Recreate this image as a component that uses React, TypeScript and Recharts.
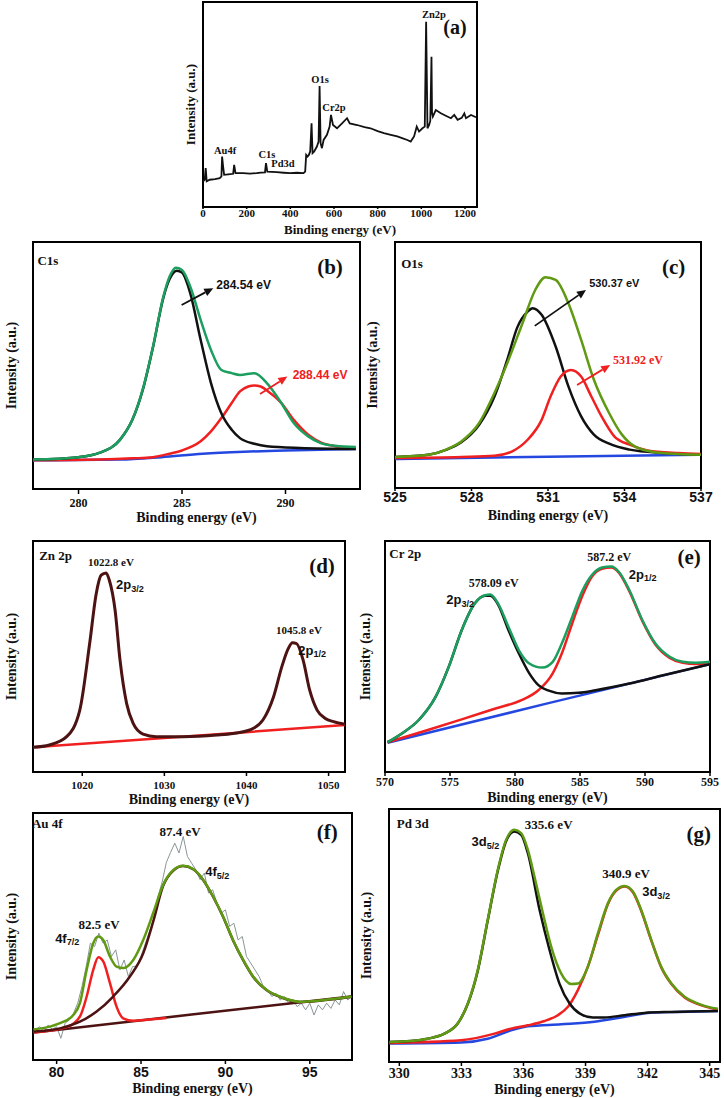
import React from 'react';
import { Label, Line, LineChart, ReferenceArea, ReferenceDot, ReferenceLine, XAxis, YAxis } from 'recharts';

type Pt = [number, number];

const SERIF = '"Liberation Serif", "Times New Roman", serif';
const SANS = '"Liberation Sans", Arial, sans-serif';

const GREEN = '#1b9e5e';
const OLIVE = '#5f9a12';
const BLUE = '#2447e0';
const RED = '#f02020';
const BLACK = '#111111';
const BROWN = '#4d1212';
const GRAY = '#8a9696';

// (a) survey spectrum
const surveyTicks = [0, 200, 400, 600, 800, 1000, 1200];
const surveySpectrum: Pt[] = [
    [0, 12.5], [7.7, 13.3], [12.3, 19.0], [16.9, 12.5], [30.7, 13.3], [55, 13.6], [76.7, 14.1], [84.4, 14.9],
    [87.5, 24.6], [92.1, 19.8], [96.7, 15.7], [115, 15.9], [138.1, 16.2], [142.7, 20.6], [148.8, 16.5],
    [184.1, 16.5], [215, 16.3], [245.5, 16.5], [265, 16.8], [283.9, 16.9], [288.5, 21.4], [294.6, 17.3],
    [337.6, 17.0], [370, 16.7], [399, 16.5], [430, 16.7], [460.3, 16.5], [468, 17.3], [472.6, 25.4],
    [478.7, 24.6], [484.9, 25.4], [491, 27.1], [497.2, 40.8], [501.8, 26.3], [509.4, 27.1], [521.7, 29.5],
    [529.4, 31.9], [534, 59.0], [538.6, 31.1], [544.7, 28.7], [552.4, 32.7], [567.7, 35.2], [580, 39.2],
    [586.2, 44.9], [595.4, 40.0], [613.8, 38.4], [636.8, 40.8], [659.8, 43.3], [672.1, 40.8], [705.8, 40.0],
    [740, 39.0], [767.2, 38.4], [800, 37.0], [828.6, 36.0], [860, 35.2], [890, 34.4], [915, 33.5],
    [936, 32.7], [951.4, 31.9], [966.7, 34.4], [979, 39.2], [989.7, 36.8], [1005.1, 38.4], [1015.8, 39.2],
    [1022, 90.3], [1028.1, 38.4], [1035.8, 40.0], [1041, 42.0], [1043.5, 55.4], [1046.5, 73.3], [1049, 46.0],
    [1052.7, 44.1], [1066.4, 47.3], [1089.5, 45.7], [1112, 44.5], [1135.5, 43.3], [1150.8, 44.9],
    [1166.2, 42.5], [1185, 43.5], [1196.9, 45.7], [1204.5, 43.3], [1227.5, 44.9], [1250.6, 43.8],
];

// (b) C1s
const c1sTicks = [280, 285, 290];
const c1sEnvelope: Pt[] = [
    [277.8, 11.9], [280, 12.9], [281, 14.6], [282, 19.9], [282.6, 28.0], [283.1, 40.2], [283.6, 57.7],
    [284.1, 77.9], [284.4, 86.0], [284.7, 89.6], [285, 88.7], [285.4, 81.9], [285.9, 68.5], [286.4, 56.3],
    [286.9, 48.2], [287.4, 46.9], [287.8, 46.2], [288.5, 46.9], [289.1, 42.9], [289.8, 34.8], [290.4, 26.7],
    [291.1, 21.3], [291.7, 18.6], [292.4, 17.5], [293.4, 17.0],
];
const c1sCC: Pt[] = [
    [277.8, 11.9], [280, 12.9], [281, 14.6], [282, 19.9], [282.6, 28.0], [283.1, 40.0], [283.6, 57.5],
    [284.1, 77.5], [284.4, 85.0], [284.75, 88.4], [285, 87.6], [285.4, 79.2], [285.9, 60.4], [286.4, 42.9],
    [286.9, 30.7], [287.4, 24.0], [287.8, 20.6], [288.5, 18.3], [289.1, 17.3], [290.7, 16.6], [293.4, 16.2],
];
const c1sOCO: Pt[] = [
    [277.8, 11.6], [281, 11.9], [282.6, 12.4], [283.6, 12.9], [284.4, 14.3], [285, 15.6], [285.9, 19.3],
    [286.4, 23.3], [286.9, 28.7], [287.4, 34.8], [287.8, 39.5], [288.2, 41.5], [288.5, 41.9], [288.8, 41.5],
    [289.1, 39.9], [289.8, 34.8], [290.4, 28.0], [291.1, 22.0], [291.7, 18.9], [292.4, 17.3], [293.4, 16.3],
];
const c1sBackground: Pt[] = [
    [277.8, 11.6], [282, 11.9], [284, 12.9], [286, 14.3], [288, 15.1], [290, 15.6], [293.4, 16.2],
];

// (c) O1s
const o1sTicks = [525, 528, 531, 534, 537];
const o1sEnvelope: Pt[] = [
    [525, 12.6], [526.3, 13.5], [527, 15.6], [527.6, 18.9], [528.3, 26.4], [528.9, 38.6], [529.4, 50.7],
    [530, 67.0], [530.5, 80.5], [530.9, 85.7], [531.3, 84.6], [531.8, 75.1], [532.3, 60.2], [532.8, 44.0],
    [533.4, 30.4], [533.9, 21.7], [534.4, 16.9], [535.2, 14.5], [536.1, 13.8], [537, 13.5],
];
const o1sLattice: Pt[] = [
    [525, 12.6], [526.3, 13.5], [527, 15.5], [527.6, 18.6], [528.3, 25.7], [528.9, 37.2], [529.4, 52.1],
    [529.8, 65.4], [530.2, 71.7], [530.4, 73.1], [530.75, 70.4], [531.3, 57.5], [531.8, 41.3], [532.3, 29.1],
    [532.8, 21.7], [533.4, 18.0], [534.2, 15.6], [535.5, 14.2], [537, 13.5],
];
const o1sSurface: Pt[] = [
    [525, 12.2], [527.6, 12.6], [528.9, 13.1], [529.6, 14.9], [530.2, 19.6], [530.75, 27.7], [531.1, 37.2],
    [531.5, 45.3], [531.9, 48.0], [532.3, 45.3], [532.7, 37.2], [533.1, 29.1], [533.6, 21.0], [534.2, 17.6],
    [534.9, 15.3], [536.1, 14.2], [537, 13.8],
];
const o1sBackground: Pt[] = [[525, 11.8], [531, 12.7], [537, 13.5]];

// (d) Zn 2p
const zn2pTicks = [1020, 1030, 1040, 1050];
const zn2pSpectrum: Pt[] = [
    [1014, 10.7], [1016, 11.7], [1018.1, 15.3], [1019.7, 26.8], [1020.9, 55.6], [1021.7, 77.2],
    [1022.3, 85.2], [1022.9, 86.2], [1023.3, 83.0], [1024, 70.0], [1024.6, 48.4], [1025.4, 29.7],
    [1026.2, 21.0], [1027.4, 16.4], [1029, 15.3], [1032.3, 15.3], [1036.4, 16.0], [1038.4, 16.7],
    [1040.4, 18.2], [1042, 22.5], [1043.3, 32.6], [1044.3, 45.5], [1045.1, 53.5], [1045.6, 55.9],
    [1046.1, 55.6], [1046.9, 48.4], [1047.7, 35.4], [1048.6, 26.8], [1049.6, 23.2], [1050.6, 21.8],
    [1052, 20.7],
];
const zn2pBackground: Pt[] = [[1014, 10.7], [1033, 15.5], [1052, 20.3]];

// (e) Cr 2p
const cr2pTicks = [570, 575, 580, 585, 590, 595];
const cr2pEnvelope: Pt[] = [
    [570.2, 12.9], [571.3, 16.7], [572.6, 22.5], [573.9, 32.6], [574.9, 45.5], [575.9, 61.4], [576.9, 72.9],
    [577.7, 76.5], [578.1, 76.8], [578.7, 72.9], [579.5, 62.8], [580.3, 52.7], [581.1, 47.0], [582.1, 45.2],
    [582.9, 47.7], [583.6, 55.6], [584.4, 67.1], [585.2, 78.7], [585.9, 85.2], [586.7, 88.5], [587.4, 89.0],
    [588, 86.6], [588.8, 78.7], [589.8, 65.7], [590.8, 55.6], [591.9, 49.9], [592.9, 47.7], [593.9, 47.3],
    [595, 47.7],
];
const cr2p32: Pt[] = [
    [570.2, 12.9], [571.3, 16.7], [572.6, 22.5], [573.9, 32.6], [574.9, 45.5], [575.9, 61.4], [576.9, 72.9],
    [577.7, 76.3], [578.1, 76.3], [578.7, 72.5], [579.5, 61.4], [580.3, 51.3], [581.1, 42.7], [581.8, 37.6],
    [582.6, 35.2], [583.6, 34.0], [584.9, 34.3], [586.2, 35.4], [588.8, 38.3], [591.4, 41.9], [595, 46.7],
];
const cr2p12: Pt[] = [
    [570.2, 12.9], [573.3, 18.2], [575.9, 22.8], [578.5, 27.5], [580.5, 31.1], [581.8, 35.4], [582.9, 42.7],
    [583.6, 51.3], [584.4, 64.3], [585.2, 76.5], [585.9, 84.4], [586.7, 88.0], [587.4, 88.5], [588, 86.2],
    [588.8, 78.2], [589.8, 65.3], [590.8, 55.2], [591.9, 49.4], [592.9, 47.3], [593.9, 46.8], [595, 47.0],
];
const cr2pBackground: Pt[] = [[570.2, 12.7], [582.5, 29.7], [595, 46.7]];

// (f) Au 4f
const au4fTicks = [80, 85, 90, 95];
const au4fRaw: Pt[] = [
    [78.75, 12.2], [79, 13.5], [79.25, 11.5], [79.5, 14.2], [79.75, 12.4], [80, 13.5], [80.25, 8.8],
    [80.5, 14.9], [80.75, 16.2], [81, 18.9], [81.25, 23.0], [81.5, 29.7], [81.75, 37.8], [82, 47.3],
    [82.25, 45.9], [82.5, 51.4], [82.75, 47.3], [83, 48.6], [83.25, 41.9], [83.5, 44.6], [83.75, 36.5],
    [84, 40.5], [84.25, 33.8], [84.5, 37.8], [84.75, 38.0], [85, 42.0], [85.25, 47.0], [85.5, 52.0],
    [85.75, 57.0], [86, 66.0], [86.25, 72.0], [86.5, 80.0], [86.75, 84.0], [87, 87.8], [87.25, 83.8],
    [87.5, 90.5], [87.75, 82.4], [88, 79.7], [88.25, 77.0], [88.5, 73.0], [88.75, 75.7], [89, 67.6],
    [89.25, 68.9], [89.5, 63.5], [89.75, 59.5], [90, 60.8], [90.25, 54.1], [90.5, 55.4], [90.75, 48.6],
    [91, 50.0], [91.25, 41.9], [91.5, 39.2], [91.75, 36.5], [92, 33.8], [92.25, 29.7], [92.5, 28.4],
    [92.75, 25.7], [93, 27.0], [93.25, 24.3], [93.5, 25.7], [93.75, 23.0], [94, 24.3], [94.25, 21.6],
    [94.5, 23.0], [94.75, 20.3], [95, 23.0], [95.25, 18.2], [95.5, 22.3], [95.75, 20.3], [96, 23.0],
    [96.25, 20.9], [96.5, 24.3], [96.75, 22.3], [97, 27.7], [97.25, 24.3], [97.5, 25.7],
];
const au4fEnvelope: Pt[] = [
    [78.62, 12.4], [79.41, 13.2], [80.2, 14.9], [80.99, 18.2], [81.38, 23.0], [81.78, 36.5], [82.17, 47.3],
    [82.47, 50.0], [82.76, 48.6], [83.16, 41.9], [83.55, 37.8], [83.94, 37.2], [84.54, 40.5], [85.13, 48.6],
    [85.72, 59.5], [86.31, 70.9], [86.9, 76.8], [87.5, 78.6], [88.09, 77.3], [88.68, 73.0], [89.27, 66.2],
    [89.86, 58.1], [90.45, 48.6], [91.05, 40.5], [91.64, 33.8], [92.43, 28.4], [93.21, 25.7], [94.4, 23.6],
    [95.58, 24.1], [97.46, 25.7],
];
const au4f52: Pt[] = [
    [78.62, 11.5], [80.2, 12.8], [81.38, 15.5], [82.37, 19.6], [83.35, 25.7], [84.34, 33.8], [85.13, 43.2],
    [85.72, 56.0], [86.31, 70.5], [86.9, 76.6], [87.5, 78.5], [88.09, 77.2], [88.68, 72.9], [89.27, 66.1],
    [89.86, 58.0], [90.45, 48.5], [91.05, 40.4], [91.64, 33.7], [92.43, 28.3], [93.21, 25.6], [94.4, 23.5],
    [95.58, 24.0], [97.46, 25.6],
];
const au4f72: Pt[] = [
    [78.62, 11.1], [80.6, 13.3], [81.38, 17.6], [81.78, 25.7], [82.17, 36.5], [82.47, 41.6], [82.76, 39.9],
    [83.16, 31.1], [83.55, 21.6], [83.94, 16.9], [84.54, 15.9], [85.5, 16.4], [86.5, 17.0],
];
const au4fBackground: Pt[] = [[78.62, 11.1], [88, 18.4], [97.46, 25.7]];

// (g) Pd 3d
const pd3dTicks = [330, 333, 336, 339, 342, 345];
const pd3dEnvelope: Pt[] = [
    [329.52, 7.9], [330.56, 8.3], [331.37, 9.2], [332.18, 11.2], [332.82, 15.2], [333.31, 23.1], [333.79, 36.3],
    [334.27, 56.1], [334.76, 76.0], [335.16, 87.8], [335.56, 91.8], [335.89, 90.5], [336.21, 83.9],
    [336.53, 73.3], [336.94, 58.8], [337.34, 45.6], [337.82, 35.0], [338.31, 30.8], [338.63, 31.0],
    [339.11, 37.6], [339.6, 50.9], [340.08, 62.7], [340.48, 68.0], [340.89, 69.6], [341.29, 67.4],
    [341.69, 60.1], [342.18, 48.2], [342.66, 37.6], [343.15, 31.0], [343.79, 25.8], [344.44, 23.1],
    [345.08, 21.5], [345.4, 21.1],
];
const pd3d52: Pt[] = [
    [329.52, 7.9], [330.56, 8.3], [331.37, 9.2], [332.18, 11.2], [332.82, 15.2], [333.31, 23.0], [333.79, 36.0],
    [334.27, 55.8], [334.76, 75.6], [335.16, 87.3], [335.56, 91.1], [335.89, 89.8], [336.21, 82.6],
    [336.78, 60.1], [337.26, 44.3], [337.74, 31.0], [338.23, 23.1], [338.71, 19.2], [339.35, 17.6],
    [339.9, 17.6], [340.89, 18.5], [341.85, 19.4], [343.15, 19.8], [345.4, 20.2],
];
const pd3d32: Pt[] = [
    [329.52, 7.5], [332.98, 8.6], [334.6, 11.2], [335.4, 13.2], [336.21, 14.5], [337.02, 16.2], [337.66, 18.5],
    [338.15, 21.8], [338.63, 28.4], [339.11, 37.6], [339.6, 50.2], [340.08, 62.4], [340.48, 67.7],
    [340.89, 69.4], [341.29, 67.1], [341.69, 59.8], [342.18, 48.0], [342.66, 37.4], [343.15, 30.8],
    [343.79, 25.5], [344.44, 22.9], [345.08, 21.3], [345.4, 20.7],
];
const pd3dBackground: Pt[] = [
    [329.52, 7.3], [332.98, 7.7], [334.27, 9.2], [335.4, 12.5], [336.21, 14.1], [337.82, 14.9], [339.43, 15.9],
    [340.72, 17.6], [342.02, 19.4], [343.47, 19.8], [345.4, 20.2],
];

type Curve = { pts: Pt[]; color: string; width?: number; linear?: boolean };
type Note = { x: number; y: number; text: string; sub?: string; size?: number; font?: string; color?: string };
type Arrow = { from: Pt; to: Pt; color: string };
type Frame = { x: number; y: number; w: number; h: number };

const rows = (pts: Pt[]) => pts.map(([x, y]) => ({ x, y }));

function NoteText({ cx, cy, note }: { cx?: number; cy?: number; note: Note }) {
    if (cx == null || cy == null) return null;
    const size = note.size ?? 12;
    return (
        <text
            x={cx}
            y={cy}
            textAnchor="middle"
            dominantBaseline="central"
            fontFamily={note.font ?? SERIF}
            fontWeight={700}
            fontSize={size}
            fill={note.color ?? BLACK}
        >
            {note.text}
            {note.sub && (
                <tspan fontSize={size * 0.7} dy={size * 0.32}>
                    {note.sub}
                </tspan>
            )}
        </text>
    );
}

function ArrowShape({ x1, y1, x2, y2, color }: any) {
    const a = Math.atan2(y2 - y1, x2 - x1);
    const len = 9;
    const half = 4;
    const bx = x2 - len * Math.cos(a);
    const by = y2 - len * Math.sin(a);
    const px = -Math.sin(a) * half;
    const py = Math.cos(a) * half;
    return (
        <g>
            <line x1={x1} y1={y1} x2={bx} y2={by} stroke={color} strokeWidth={1.8} />
            <polygon points={`${x2},${y2} ${bx + px},${by + py} ${bx - px},${by - py}`} fill={color} />
        </g>
    );
}

type PanelProps = {
    frame: Frame;
    domain: [number, number];
    ticks: number[];
    tickFont: string;
    tickFs: number;
    tickSize: number;
    tickGap: number;
    labelGap: number;
    labelFs: number;
    yLabelX: number;
    curves: Curve[];
    notes: Note[];
    arrows?: Arrow[];
};

function Panel({
    frame,
    domain,
    ticks,
    tickFont,
    tickFs,
    tickSize,
    tickGap,
    labelGap,
    labelFs,
    yLabelX,
    curves,
    notes,
    arrows = [],
}: PanelProps) {
    const top = 12;
    const right = 24;
    const axisH = 46;
    const yw = frame.x - yLabelX + 12;
    const width = yw + frame.w + right;
    const height = top + frame.h + axisH;
    const tickMargin = Math.max(0, tickGap - tickSize - tickFs * 0.35);
    return (
        <div style={{ position: 'absolute', left: frame.x - yw, top: frame.y - top }}>
            <LineChart width={width} height={height} margin={{ top, right, left: 0, bottom: 0 }}>
                <XAxis
                    type="number"
                    dataKey="x"
                    domain={domain}
                    ticks={ticks}
                    interval={0}
                    allowDataOverflow
                    axisLine={false}
                    height={axisH}
                    tickSize={tickSize}
                    tickMargin={tickMargin}
                    tickLine={{ stroke: '#000', strokeWidth: 1.5 }}
                    tick={{ fill: BLACK, fontSize: tickFs, fontWeight: 700, fontFamily: tickFont }}
                >
                    <Label
                        value="Binding energy (eV)"
                        position="insideBottom"
                        offset={axisH - labelGap - labelFs * 0.35}
                        fill={BLACK}
                        fontSize={labelFs}
                        fontWeight={700}
                        fontFamily={SERIF}
                    />
                </XAxis>
                <YAxis
                    type="number"
                    dataKey="y"
                    domain={[0, 100]}
                    allowDataOverflow
                    width={yw}
                    tick={false}
                    tickLine={false}
                    axisLine={false}
                >
                    <Label
                        value="Intensity (a.u.)"
                        angle={-90}
                        position="insideLeft"
                        offset={12}
                        textAnchor="middle"
                        style={{ textAnchor: 'middle' }}
                        fill={BLACK}
                        fontSize={labelFs}
                        fontWeight={700}
                        fontFamily={SERIF}
                    />
                </YAxis>
                {curves.map((c, i) => (
                    <Line
                        key={i}
                        data={rows(c.pts)}
                        dataKey="y"
                        type={c.linear ? 'linear' : 'monotone'}
                        stroke={c.color}
                        strokeWidth={c.width ?? 2.5}
                        dot={false}
                        activeDot={false}
                        isAnimationActive={false}
                    />
                ))}
                <ReferenceArea
                    x1={domain[0]}
                    x2={domain[1]}
                    y1={0}
                    y2={100}
                    fill="none"
                    stroke="#000"
                    strokeWidth={2}
                    ifOverflow="visible"
                />
                {arrows.map((a, i) => (
                    <ReferenceLine
                        key={`a${i}`}
                        segment={[
                            { x: a.from[0], y: a.from[1] },
                            { x: a.to[0], y: a.to[1] },
                        ]}
                        shape={(p: any) => <ArrowShape {...p} color={a.color} />}
                    />
                ))}
                {notes.map((n, i) => (
                    <ReferenceDot
                        key={`n${i}`}
                        x={n.x}
                        y={n.y}
                        r={0}
                        shape={(p: any) => <NoteText cx={p.cx} cy={p.cy} note={n} />}
                    />
                ))}
            </LineChart>
        </div>
    );
}

export default function App() {
    return (
        <div
            style={{
                position: 'absolute',
                left: 0,
                top: 0,
                width: 724,
                height: 1098,
                overflow: 'hidden',
                background: '#fff',
            }}
        >
            <Panel
                frame={{ x: 203, y: 2, w: 274, h: 205 }}
                domain={[0, 1255]}
                ticks={surveyTicks}
                tickFont={SERIF}
                tickFs={11}
                tickSize={2}
                tickGap={6}
                labelGap={22}
                labelFs={13}
                yLabelX={190}
                curves={[{ pts: surveySpectrum, color: BLACK, width: 1.8, linear: true }]}
                notes={[
                    { x: 101, y: 27.8, text: 'Au4f', size: 10.5 },
                    { x: 293, y: 25.4, text: 'C1s', size: 10.5 },
                    { x: 366, y: 21, text: 'Pd3d', size: 10.5 },
                    { x: 536, y: 62, text: 'O1s', size: 10.5 },
                    { x: 600, y: 48.3, text: 'Cr2p', size: 10.5 },
                    { x: 1058, y: 93.7, text: 'Zn2p', size: 10.5 },
                    { x: 1154, y: 87.8, text: '(a)', size: 20 },
                ]}
            />
            <Panel
                frame={{ x: 33, y: 242, w: 327, h: 247 }}
                domain={[277.8, 293.6]}
                ticks={c1sTicks}
                tickFont={SERIF}
                tickFs={12}
                tickSize={5}
                tickGap={14}
                labelGap={28}
                labelFs={14}
                yLabelX={11}
                curves={[
                    { pts: c1sBackground, color: BLUE },
                    { pts: c1sOCO, color: RED },
                    { pts: c1sCC, color: BLACK },
                    { pts: c1sEnvelope, color: GREEN },
                ]}
                arrows={[
                    { from: [284.98, 74.5], to: [286.51, 81.3], color: BLACK },
                    { from: [288.77, 38.5], to: [290.09, 45.5], color: RED },
                ]}
                notes={[
                    { x: 278.52, y: 92.7, text: 'C1s', size: 13 },
                    { x: 292.15, y: 89.9, text: '(b)', size: 21 },
                    { x: 287.98, y: 82.6, text: '284.54 eV', size: 12, font: SANS },
                    { x: 291.67, y: 46.2, text: '288.44 eV', size: 12, font: SANS, color: RED },
                ]}
            />
            <Panel
                frame={{ x: 395, y: 242, w: 306, h: 246 }}
                domain={[525, 537]}
                ticks={o1sTicks}
                tickFont={SANS}
                tickFs={14}
                tickSize={3}
                tickGap={9}
                labelGap={27}
                labelFs={14}
                yLabelX={372}
                curves={[
                    { pts: o1sBackground, color: BLUE },
                    { pts: o1sLattice, color: BLACK },
                    { pts: o1sSurface, color: RED },
                    { pts: o1sEnvelope, color: OLIVE },
                ]}
                arrows={[
                    { from: [530.48, 65.9], to: [532.49, 80.5], color: BLACK },
                    { from: [532.14, 41.9], to: [533.44, 50.0], color: RED },
                ]}
                notes={[
                    { x: 525.67, y: 91.3, text: 'O1s', size: 13 },
                    { x: 535.93, y: 89.7, text: '(c)', size: 21 },
                    { x: 533.6, y: 83.2, text: '530.37 eV', size: 11, font: SANS },
                    { x: 534.53, y: 52, text: '531.92 eV', size: 12, color: RED },
                ]}
            />
            <Panel
                frame={{ x: 33, y: 541, w: 312, h: 231 }}
                domain={[1014, 1052]}
                ticks={zn2pTicks}
                tickFont={SERIF}
                tickFs={11}
                tickSize={4}
                tickGap={13}
                labelGap={27}
                labelFs={14}
                yLabelX={11}
                curves={[
                    { pts: zn2pBackground, color: RED },
                    { pts: zn2pSpectrum, color: BROWN, width: 3 },
                ]}
                notes={[
                    { x: 1016.76, y: 93.6, text: 'Zn 2p', size: 13 },
                    { x: 1023.5, y: 91, text: '1022.8 eV', size: 11 },
                    { x: 1025.8, y: 81, text: '2p', sub: '3/2', size: 13, font: SANS },
                    { x: 1046.4, y: 61.5, text: '1045.8 eV', size: 11 },
                    { x: 1048.0, y: 52.8, text: '2p', sub: '1/2', size: 13, font: SANS },
                    { x: 1049.2, y: 89.3, text: '(d)', size: 21 },
                ]}
            />
            <Panel
                frame={{ x: 385, y: 541, w: 325, h: 231 }}
                domain={[570, 595]}
                ticks={cr2pTicks}
                tickFont={SERIF}
                tickFs={12}
                tickSize={4}
                tickGap={10}
                labelGap={25.5}
                labelFs={14}
                yLabelX={365}
                curves={[
                    { pts: cr2pBackground, color: BLUE },
                    { pts: cr2p12, color: RED },
                    { pts: cr2p32, color: BLACK },
                    { pts: cr2pEnvelope, color: GREEN },
                ]}
                notes={[
                    { x: 571.56, y: 94.4, text: 'Cr 2p', size: 13 },
                    { x: 578.36, y: 81.7, text: '578.09 eV', size: 12 },
                    { x: 575.79, y: 74.5, text: '2p', sub: '3/2', size: 13, font: SANS },
                    { x: 587.25, y: 93.2, text: '587.2 eV', size: 12 },
                    { x: 589.82, y: 85.7, text: '2p', sub: '1/2', size: 13, font: SANS },
                    { x: 593.4, y: 92.9, text: '(e)', size: 21 },
                ]}
            />
            <Panel
                frame={{ x: 33, y: 813, w: 319, h: 247 }}
                domain={[78.6, 97.5]}
                ticks={au4fTicks}
                tickFont={SANS}
                tickFs={14}
                tickSize={4}
                tickGap={12}
                labelGap={28}
                labelFs={14}
                yLabelX={11}
                curves={[
                    { pts: au4fRaw, color: GRAY, width: 1, linear: true },
                    { pts: au4fBackground, color: BROWN },
                    { pts: au4f72, color: RED },
                    { pts: au4f52, color: BROWN },
                    { pts: au4fEnvelope, color: OLIVE },
                ]}
                notes={[
                    { x: 79.45, y: 95.8, text: 'Au 4f', size: 13 },
                    { x: 87.31, y: 92.4, text: '87.4 eV', size: 13 },
                    { x: 89.52, y: 76.2, text: '4f', sub: '5/2', size: 13, font: SANS },
                    { x: 82.51, y: 54.7, text: '82.5 eV', size: 13 },
                    { x: 80.63, y: 49.3, text: '4f', sub: '7/2', size: 13, font: SANS },
                    { x: 96.04, y: 92.2, text: '(f)', size: 21 },
                ]}
            />
            <Panel
                frame={{ x: 389, y: 809, w: 331, h: 253 }}
                domain={[329.5, 345.5]}
                ticks={pd3dTicks}
                tickFont={SERIF}
                tickFs={14}
                tickSize={4}
                tickGap={11}
                labelGap={27}
                labelFs={14}
                yLabelX={366}
                curves={[
                    { pts: pd3dBackground, color: BLUE },
                    { pts: pd3d32, color: RED },
                    { pts: pd3d52, color: BLACK },
                    { pts: pd3dEnvelope, color: OLIVE },
                ]}
                notes={[
                    { x: 330.65, y: 94.3, text: 'Pd 3d', size: 13 },
                    { x: 337.22, y: 93.7, text: '335.6 eV', size: 13 },
                    { x: 334.16, y: 87.1, text: '3d', sub: '5/2', size: 13, font: SANS },
                    { x: 340.96, y: 74.6, text: '340.9 eV', size: 13 },
                    { x: 342.41, y: 67.3, text: '3d', sub: '3/2', size: 13, font: SANS },
                    { x: 344.47, y: 90.1, text: '(g)', size: 21 },
                ]}
            />
        </div>
    );
}
